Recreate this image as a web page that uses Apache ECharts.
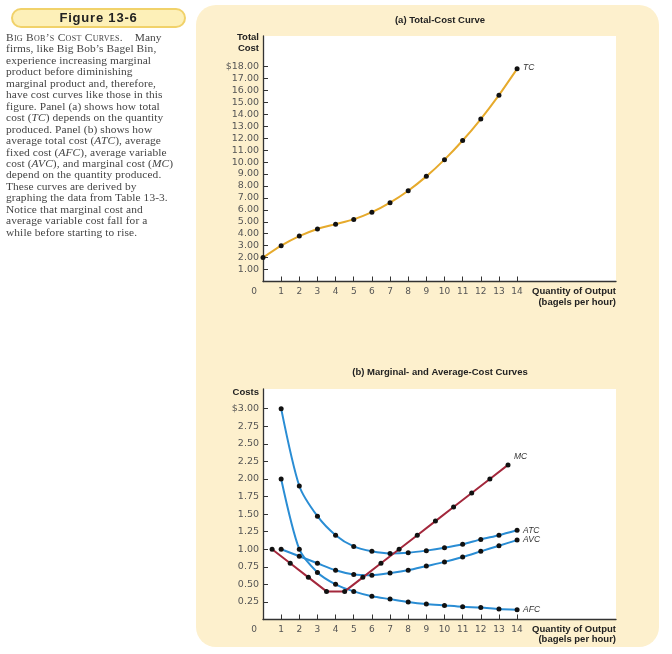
<!DOCTYPE html>
<html>
<head>
<meta charset="utf-8">
<script src="https://cdn.jsdelivr.net/npm/echarts@6/dist/echarts.min.js"></script>
<style>
  html, body { margin:0; padding:0; background:#fff; }
  #wrap { position:relative; width:672px; height:654px; overflow:hidden; }
  #chart { position:absolute; left:0; top:0; width:672px; height:654px; }
  #pill { position:absolute; left:11px; top:8px; width:171px; height:16px; border:2px solid #f1d26a; background:#fdf0b8; border-radius:10px;
          font-family:"Liberation Sans", Arial, sans-serif; font-weight:bold; font-size:13px; letter-spacing:0.8px; color:#222; text-align:center; line-height:16px; }
  #cap { position:absolute; left:6px; top:32px; font-family:"Liberation Serif", "Times New Roman", serif; font-size:11.4px; letter-spacing:0.1px; line-height:11.45px; color:#444; white-space:nowrap; }
  #cap .sc { font-variant:small-caps; letter-spacing:0.3px; }
</style>
</head>
<body>
<div id="wrap">
  <div id="chart"></div>
  <div id="pill">Figure 13-6</div>
  <div id="cap">
    <span class="sc">Big Bob’s Cost Curves.</span>&nbsp;&nbsp;&nbsp; Many<br>
    firms, like Big Bob’s Bagel Bin,<br>
    experience increasing marginal<br>
    product before diminishing<br>
    marginal product and, therefore,<br>
    have cost curves like those in this<br>
    figure. Panel (a) shows how total<br>
    cost (<i>TC</i>) depends on the quantity<br>
    produced. Panel (b) shows how<br>
    average total cost (<i>ATC</i>), average<br>
    fixed cost (<i>AFC</i>), average variable<br>
    cost (<i>AVC</i>), and marginal cost (<i>MC</i>)<br>
    depend on the quantity produced.<br>
    These curves are derived by<br>
    graphing the data from Table 13-3.<br>
    Notice that marginal cost and<br>
    average variable cost fall for a<br>
    while before starting to rise.
  </div>
</div>
<script>
// ---- data (Table 13-3, Big Bob's Bagel Bin) ----
const quantity   = [0,1,2,3,4,5,6,7,8,9,10,11,12,13,14];
const totalCost  = [2.00,3.00,3.80,4.40,4.80,5.20,5.80,6.60,7.60,8.80,10.20,11.80,13.60,15.60,17.80];
const avgQuantity = [1,2,3,4,5,6,7,8,9,10,11,12,13,14];
const atc = [3.00,1.90,1.47,1.20,1.04,0.97,0.94,0.95,0.98,1.02,1.07,1.14,1.20,1.27];
const avc = [1.00,0.90,0.80,0.70,0.64,0.63,0.66,0.70,0.76,0.82,0.89,0.97,1.05,1.13];
const afc = [2.00,1.00,0.67,0.50,0.40,0.33,0.29,0.25,0.22,0.20,0.18,0.17,0.15,0.14];
const mcQuantity = [0.5,1.5,2.5,3.5,4.5,5.5,6.5,7.5,8.5,9.5,10.5,11.5,12.5,13.5];
const mc = [1.00,0.80,0.60,0.40,0.40,0.60,0.80,1.00,1.20,1.40,1.60,1.80,2.00,2.20];
const xTicks = [1,2,3,4,5,6,7,8,9,10,11,12,13,14];
const xLabels = [0,1,2,3,4,5,6,7,8,9,10,11,12,13,14];
const tcTicks = [1,2,3,4,5,6,7,8,9,10,11,12,13,14,15,16,17,18];
const costTicks = [0.25,0.5,0.75,1.0,1.25,1.5,1.75,2.0,2.25,2.5,2.75,3.0];

const zip = (xs, ys) => xs.map((x, i) => [x, ys[i]]);

const FONT = '"Liberation Sans", Arial, sans-serif';
const TFONT = '"DejaVu Sans", Verdana, sans-serif';
const AXC = '#333';
const GOLD = '#e6aa2c';
const BLUE = '#2a8dd4';
const RED = '#a3283c';

function xAxisCfg(gi) {
  return {
    gridIndex: gi, type: 'value', min: 0, max: 19.45, interval: 1,
    axisLine: { show: true, lineStyle: { color: AXC, width: 1.3 } },
    axisTick: { show: true, inside: true, length: 5, customValues: xTicks, lineStyle: { color: AXC, width: 1 } },
    axisLabel: {
      customValues: xLabels, color: '#555', fontSize: 9, fontFamily: TFONT, margin: 6,
      formatter: v => v === 0 ? '{z|0}' : String(v),
      rich: { z: { padding: [0, 18, 0, 0], fontSize: 9, fontFamily: TFONT, color: '#555' } }
    },
    splitLine: { show: false }
  };
}
function yAxisCfg(gi, max, ticks, top) {
  return {
    gridIndex: gi, type: 'value', min: 0, max: max,
    axisLine: { show: true, lineStyle: { color: AXC, width: 1.3 } },
    axisTick: { show: true, inside: true, length: 5, customValues: ticks, lineStyle: { color: AXC, width: 1 } },
    axisLabel: {
      customValues: ticks, color: '#555', fontSize: 9.5, fontFamily: TFONT, margin: 4,
      formatter: v => (Math.abs(v - top) < 1e-9 ? '$' : '') + v.toFixed(2)
    },
    splitLine: { show: false }
  };
}
const lblStyle = { fontSize: 8.5, fontStyle: 'italic', fontFamily: FONT, color: '#333' };
function lineSeries(name, data, color, xi, smooth, offset) {
  return {
    name, type: 'line', xAxisIndex: xi, yAxisIndex: xi, data,
    smooth: smooth, symbol: 'circle', symbolSize: 5, showSymbol: true,
    lineStyle: { color, width: 2 }, itemStyle: { color: '#111' },
    endLabel: Object.assign({ show: true, formatter: name, distance: 6, offset: offset || [0, 0] }, lblStyle),
    emphasis: { disabled: true }, z: 3
  };
}

const chart = echarts.init(document.getElementById('chart'), null, { renderer: 'canvas' });
chart.setOption({
  animation: false,
  backgroundColor: 'transparent',
  grid: [
    { left: 263, top: 36, width: 353, height: 245.5, show: true, backgroundColor: '#fff', borderWidth: 0 },
    { left: 263, top: 389, width: 353, height: 230.5, show: true, backgroundColor: '#fff', borderWidth: 0 }
  ],
  xAxis: [xAxisCfg(0), xAxisCfg(1)],
  yAxis: [yAxisCfg(0, 20.55, tcTicks, 18), yAxisCfg(1, 3.28, costTicks, 3)],
  series: [
    lineSeries('TC', zip(quantity, totalCost), GOLD, 0, 0.2, [0, -1]),
    lineSeries('ATC', zip(avgQuantity, atc), BLUE, 1, 0.25),
    lineSeries('AVC', zip(avgQuantity, avc), BLUE, 1, 0.25),
    lineSeries('AFC', zip(avgQuantity, afc), BLUE, 1, 0.25),
    lineSeries('MC', zip(mcQuantity, mc), RED, 1, false, [0, -8])
  ],
  graphic: [
    { type: 'rect', z: -10, silent: true, shape: { x: 196, y: 5, width: 463, height: 642, r: 20 }, style: { fill: '#fdf0cd' } },
    { type: 'text', x: 440, y: 20, style: { text: '(a) Total-Cost Curve', font: 'bold 9.5px ' + FONT, fill: '#222', align: 'center', verticalAlign: 'middle' } },
    { type: 'text', x: 440, y: 372, style: { text: '(b) Marginal- and Average-Cost Curves', font: 'bold 9.5px ' + FONT, fill: '#222', align: 'center', verticalAlign: 'middle' } },
    { type: 'text', x: 259, y: 43, style: { text: 'Total\nCost', font: 'bold 9.5px ' + FONT, lineHeight: 11, fill: '#222', align: 'right', verticalAlign: 'middle' } },
    { type: 'text', x: 259, y: 392, style: { text: 'Costs', font: 'bold 9.5px ' + FONT, fill: '#222', align: 'right', verticalAlign: 'middle' } },
    { type: 'text', x: 616, y: 297, style: { text: 'Quantity of Output\n(bagels per hour)', font: 'bold 9.5px ' + FONT, lineHeight: 10.5, fill: '#222', align: 'right', verticalAlign: 'middle' } },
    { type: 'text', x: 616, y: 634.5, style: { text: 'Quantity of Output\n(bagels per hour)', font: 'bold 9.5px ' + FONT, lineHeight: 10.5, fill: '#222', align: 'right', verticalAlign: 'middle' } }
  ]
});
</script>
</body>
</html>
